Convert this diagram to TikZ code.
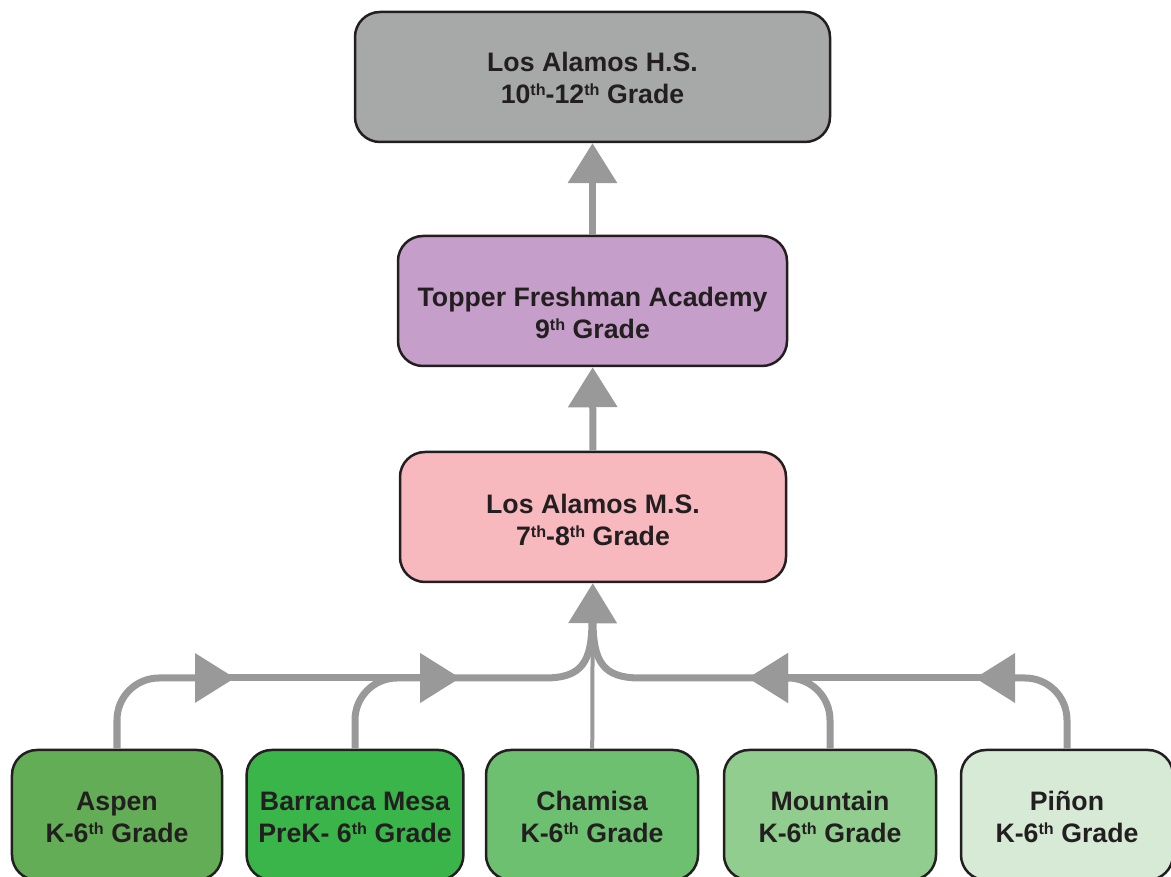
\documentclass[tikz,border=0pt]{standalone}
\usepackage{fontspec}
\setmainfont{Liberation Sans}
\usetikzlibrary{arrows.meta,positioning}

\definecolor{boxline}{HTML}{231F20}
\definecolor{arrowgray}{HTML}{999999}
\definecolor{hsgray}{HTML}{A7A9A8}
\definecolor{tfapurple}{HTML}{C59FC9}
\definecolor{mspink}{HTML}{F7B8BE}
\definecolor{aspengreen}{HTML}{62AD55}
\definecolor{bmgreen}{HTML}{39B54A}
\definecolor{chamgreen}{HTML}{6CC070}
\definecolor{mtngreen}{HTML}{91CD8F}
\definecolor{pinongreen}{HTML}{D7EAD5}

\newcommand{\ordsup}[1]{\raisebox{2.3pt}{\fontsize{4.6}{5}\selectfont #1}}

\tikzset{
  school/.style={draw=boxline, line width=0.025cm, rounded corners=0.25cm,
    minimum height=1.30cm, align=center, text=boxline,
    font=\bfseries\fontsize{7.6}{9.3}\selectfont},
  elem/.style={school, minimum width=2.12cm, text height=0.78cm, text depth=0.22cm},
  feed/.style={draw=arrowgray, line width=0.07cm,
    -{Triangle[length=0.40cm,width=0.48cm]}},
  trunk/.style={draw=arrowgray, line width=0.07cm},
}

\begin{document}
\begin{tikzpicture}
    \useasboundingbox (0,0) rectangle (11.71,8.77);
    % upper schools
    \node[school, fill=hsgray, minimum width=4.75cm,
        text height=0.77cm, text depth=0.23cm] (hs) at (5.925,8.00)
        {Los Alamos H.S.\\10\ordsup{th}-12\ordsup{th} Grade};
    \node[school, fill=tfapurple, minimum width=3.89cm,
        text height=0.88cm, text depth=0.12cm] (tfa) at (5.925,5.76)
        {Topper Freshman Academy\\9\ordsup{th} Grade};
    \node[school, fill=mspink, minimum width=3.86cm,
        text height=0.79cm, text depth=0.21cm] (ms) at (5.93,3.60)
        {Los Alamos M.S.\\7\ordsup{th}-8\ordsup{th} Grade};
    % elementary schools
    \node[elem, fill=aspengreen, minimum width=2.10cm] (aspen) at (1.17,0.62)
        {Aspen\\K-6\ordsup{th} Grade};
    \node[elem, fill=bmgreen] (bm) at (3.55,0.62)
        {Barranca Mesa\\PreK- 6\ordsup{th} Grade};
    \node[elem, fill=chamgreen] (cham) at (5.92,0.62)
        {Chamisa\\K-6\ordsup{th} Grade};
    \node[elem, fill=mtngreen] (mtn) at (8.30,0.62)
        {Mountain\\K-6\ordsup{th} Grade};
    \node[elem, fill=pinongreen] (pinon) at (10.67,0.62)
        {Piñon\\K-6\ordsup{th} Grade};

    \draw[feed] (tfa) -- (hs);
    \draw[feed] (ms) -- (tfa);
    \draw[feed, line width=0.04cm] (cham) -- (ms);

    % left branch
    \draw[feed, rounded corners=0.42cm] (aspen.north) |- (2.35,1.99) coordinate (la);
    \draw[feed, shorten <=-0.1cm] (la) -- (4.60,1.99) coordinate (lb);
    \draw[feed, rounded corners=0.42cm] (bm.north) |- (lb);
    \draw[trunk, shorten <=-0.1cm] (lb) -- (5.45,1.99) .. controls (5.82,1.99) and (5.92,2.15) .. (5.92,2.57);

    % right branch
    \draw[feed, rounded corners=0.42cm] (pinon.north) |- (9.75,1.99) coordinate (ra);
    \draw[feed, shorten <=-0.1cm] (ra) -- (7.48,1.99) coordinate (rb);
    \draw[feed, rounded corners=0.42cm] (mtn.north) |- (rb);
    \draw[trunk, shorten <=-0.1cm] (rb) -- (6.40,1.99) .. controls (6.03,1.99) and (5.93,2.15) .. (5.93,2.57);
\end{tikzpicture}
\end{document}
